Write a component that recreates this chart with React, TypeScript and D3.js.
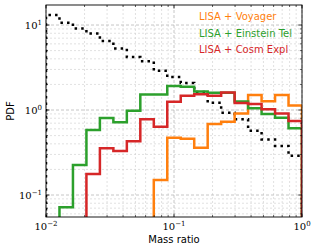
import React from "react";
import * as d3 from "d3";

// bin edges, log spaced from 1e-2 to 1 (19 bins)
const binEdges = [
  0.01, 0.012743, 0.016238, 0.020691, 0.026367, 0.033598, 0.042813, 0.054556,
  0.069519, 0.088587, 0.11288, 0.14384, 0.18330, 0.23357, 0.29764, 0.37927,
  0.48329, 0.61585, 0.78476, 1.0,
];

// PDF values per bin (0 = empty bin)
const allSystems = [13.1, 10.6, 9.1, 7.95, 6.47, 5.3, 4.2, 3.75, 2.9, 2.44, 2.08, 1.63, 1.22, 0.93, 0.78, 0.57, 0.45, 0.377, 0.29];
const voyager = [0, 0, 0, 0, 0, 0, 0, 0, 0.15, 0.472, 0.459, 0.36, 0.685, 0.73, 0.91, 1.5, 1.27, 1.5, 1.13];
const einstein = [0, 0.072, 0.225, 0.58, 0.805, 0.716, 0.98, 1.52, 1.52, 1.92, 1.88, 1.65, 1.6, 1.6, 1.26, 1.05, 0.9, 0.81, 0.61];
const cosmic = [0, 0, 0, 0.177, 0.355, 0.33, 0.43, 0.78, 0.636, 1.25, 1.47, 1.53, 1.47, 1.61, 1.21, 1.18, 1.02, 0.91, 0.74];

const legendLabels = ["LISA + Voyager", "LISA + Einstein Tel", "LISA + Cosm Expl"];
const legendColors = ["#ff7f0e", "#2ca02c", "#d62728"];

const xTicks = [0.01, 0.1, 1];
const xTickExp = ["−2", "−1", "0"];
const yTicks = [0.1, 1, 10];
const yTickExp = ["−1", "0", "1"];

const margin = { top: 5, right: 14, bottom: 34, left: 46 };
const width = 316;
const height = 251;
const iw = width - margin.left - margin.right;
const ih = height - margin.top - margin.bottom;

const x = d3.scaleLog().domain([0.01, 1]).range([0, iw]);
const y = d3.scaleLog().domain([0.0551, 17.2]).range([ih, 0]);

const minorTicks = (lo: number, hi: number) => {
  const out: number[] = [];
  for (let e = lo; e < hi; e++) {
    for (let m = 2; m <= 9; m++) out.push(m * Math.pow(10, e));
  }
  return out;
};
const xMinor = minorTicks(-2, 0);
const yMinor = minorTicks(-2, 2).filter((v) => v > 0.0551 && v < 17.2);

// step outline like matplotlib histtype="step"
const stepPath = (vals: number[]) => {
  const yv = (v: number) => (v > 0 ? y(v) : ih + 20);
  let d = `M${x(binEdges[0])},${ih + 20}`;
  vals.forEach((v, i) => {
    d += `L${x(binEdges[i])},${yv(v)}L${x(binEdges[i + 1])},${yv(v)}`;
  });
  d += `L${x(binEdges[binEdges.length - 1])},${ih + 20}`;
  return d;
};

const App = () => {
  const sans = "DejaVu Sans, sans-serif";
  const serif = "DejaVu Serif, serif";
  return (
    <svg width={width} height={height} style={{ position: "absolute", left: 0, top: 0, background: "#fff" }}>
      <defs>
        <clipPath id="plotclip">
          <rect x={0} y={0} width={iw} height={ih} />
        </clipPath>
      </defs>
      <g transform={`translate(${margin.left},${margin.top})`}>
        {/* grid */}
        {xMinor.map((t, i) => (
          <line key={"xm" + i} x1={x(t)} x2={x(t)} y1={0} y2={ih} stroke="#d4d4d4" strokeWidth={0.7} strokeDasharray="2,2" />
        ))}
        {yMinor.map((t, i) => (
          <line key={"ym" + i} x1={0} x2={iw} y1={y(t)} y2={y(t)} stroke="#d4d4d4" strokeWidth={0.7} strokeDasharray="2,2" />
        ))}
        {xTicks.map((t, i) => (
          <line key={"xg" + i} x1={x(t)} x2={x(t)} y1={0} y2={ih} stroke="#b8b8b8" strokeWidth={0.8} strokeDasharray="3,2" />
        ))}
        {yTicks.map((t, i) => (
          <line key={"yg" + i} x1={0} x2={iw} y1={y(t)} y2={y(t)} stroke="#b8b8b8" strokeWidth={0.8} strokeDasharray="3,2" />
        ))}

        {/* histograms */}
        <g clipPath="url(#plotclip)" fill="none">
          <path d={stepPath(allSystems)} stroke="#000" strokeWidth={2.5} strokeDasharray="2.5,4.1" />
          <path d={stepPath(voyager)} stroke={legendColors[0]} strokeWidth={2.5} />
          <path d={stepPath(einstein)} stroke={legendColors[1]} strokeWidth={2.5} />
          <path d={stepPath(cosmic)} stroke={legendColors[2]} strokeWidth={2.5} />
        </g>

        {/* ticks, all sides, inward */}
        {xMinor.map((t, i) => (
          <g key={"xmt" + i} stroke="#000" strokeWidth={0.6}>
            <line x1={x(t)} x2={x(t)} y1={ih} y2={ih - 2} />
            <line x1={x(t)} x2={x(t)} y1={0} y2={2} />
          </g>
        ))}
        {yMinor.map((t, i) => (
          <g key={"ymt" + i} stroke="#000" strokeWidth={0.6}>
            <line x1={0} x2={2} y1={y(t)} y2={y(t)} />
            <line x1={iw} x2={iw - 2} y1={y(t)} y2={y(t)} />
          </g>
        ))}
        {xTicks.map((t, i) => (
          <g key={"xt" + i} stroke="#000" strokeWidth={0.8}>
            <line x1={x(t)} x2={x(t)} y1={ih} y2={ih - 3.5} />
            <line x1={x(t)} x2={x(t)} y1={0} y2={3.5} />
          </g>
        ))}
        {yTicks.map((t, i) => (
          <g key={"yt" + i} stroke="#000" strokeWidth={0.8}>
            <line x1={0} x2={3.5} y1={y(t)} y2={y(t)} />
            <line x1={iw} x2={iw - 3.5} y1={y(t)} y2={y(t)} />
          </g>
        ))}

        <rect x={0} y={0} width={iw} height={ih} fill="none" stroke="#000" strokeWidth={0.9} />

        {/* tick labels */}
        {xTicks.map((t, i) => (
          <text key={"xl" + i} x={x(t)} y={ih + 13} textAnchor="middle" fontFamily={serif} fontSize={10} fill="#000">
            10<tspan dy={-4.5} fontSize={7}>{xTickExp[i]}</tspan>
          </text>
        ))}
        {yTicks.map((t, i) => (
          <text key={"yl" + i} x={-4} y={y(t) + 4} textAnchor="end" fontFamily={serif} fontSize={10} fill="#000">
            10<tspan dy={-4.5} fontSize={7}>{yTickExp[i]}</tspan>
          </text>
        ))}

        {/* legend as coloured text */}
        {legendLabels.map((l, i) => (
          <text key={"lg" + i} x={153} y={15.3 + i * 16.2} fontFamily={sans} fontSize={10} fill={legendColors[i]}>
            {l}
          </text>
        ))}

        <text x={iw / 2} y={ih + 25.5} textAnchor="middle" fontFamily={sans} fontSize={10} fill="#000">
          Mass ratio
        </text>
        <text transform={`translate(${-32.5},${ih / 2}) rotate(-90)`} textAnchor="middle" fontFamily={sans} fontSize={10} fill="#000">
          PDF
        </text>
      </g>
    </svg>
  );
};

export default App;
